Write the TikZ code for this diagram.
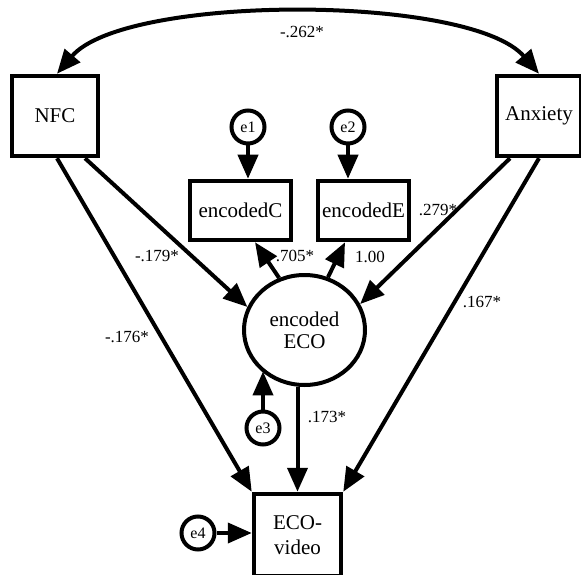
\documentclass[tikz,border=0pt]{standalone}
\usepackage{fontspec}
\setmainfont{Liberation Serif}
\usetikzlibrary{arrows.meta,shapes.geometric}
\begin{document}
\begin{tikzpicture}[x=1pt,y=-1pt,
  box/.style={draw,rectangle,line width=4.5pt,inner sep=0pt,align=center,
    font=\fontsize{21}{25}\selectfont},
  errc/.style={draw,circle,line width=4pt,minimum size=33pt,inner sep=0pt,
    font=\fontsize{16}{18}\selectfont},
  latent/.style={draw,ellipse,line width=4pt,minimum width=121pt,minimum height=110pt,
    inner sep=0pt,align=center,font=\fontsize{21}{22}\selectfont},
  arr/.style={line width=4pt,-{Triangle[length=24pt,width=20pt]}},
  dbl/.style={line width=4pt,{Triangle[length=24pt,width=20pt]}-{Triangle[length=24pt,width=20pt]}},
  coef/.style={inner sep=0pt,font=\fontsize{17}{19}\selectfont}]
\useasboundingbox (0,0) rectangle (581,575);
\clip (0,0) rectangle (581,575);

% observed variables
\node[box,minimum width=86pt,minimum height=80pt] (nfc) at (55,116) {NFC};
\node[box,minimum width=84pt,minimum height=80pt] (anx) at (539,116) {Anxiety};
\node[box,minimum width=101pt,minimum height=59pt] (encC) at (240.5,210.5) {encodedC};
\node[box,minimum width=91pt,minimum height=59pt] (encE) at (363.5,210.5) {encodedE};
\node[box,minimum width=87pt,minimum height=82pt] (video) at (297.5,535) {ECO-\\video};

% latent variable
\node[latent] (eco) at (304.5,330) {encoded\\ECO};

% error terms
\node[errc] (e1) at (248,127) {e1};
\node[errc] (e2) at (348,127) {e2};
\node[errc] (e3) at (263,428) {e3};
\node[errc] (e4) at (198,533) {e4};

% covariance
\draw[dbl] ([xshift=2pt]nfc.north) .. controls (125,-6) and (470,-6) .. (anx.north);

% paths
\draw[arr] (e1.south) -- (e1.south |- encC.north);
\draw[arr] (e2.south) -- (e2.south |- encE.north);
\draw[arr] (eco.116) -- ([xshift=14.5pt]encC.south);
\draw[arr] (eco.66) -- ([xshift=-18.5pt]encE.south);
\draw[arr] ([xshift=30pt]nfc.south) -- (eco.158);
\draw[arr] ([xshift=2pt]nfc.south) -- (video.north west);
\draw[arr] ([xshift=-29pt]anx.south) -- (eco.25);
\draw[arr] (anx.south) -- (video.north east);
\draw[arr] (eco.south -| video.north) -- (video.north);
\draw[arr] (e3.north) -- (e3.north |- eco.224);
\draw[arr] (e4.east) -- (e4.east -| video.west);

% coefficients
\node[coef] (c1) at (302,32) {-.262*};
\node[coef] (c2) at (157,256) {-.179*};
\node[coef] (c3) at (127,337) {-.176*};
\node[coef] (c4) at (295,256) {.705*};
\node[coef] (c5) at (370,257) {1.00};
\node[coef] (c6) at (438,210) {.279*};
\node[coef] (c7) at (482,302) {.167*};
\node[coef] (c8) at (327,417) {.173*};
\end{tikzpicture}
\end{document}
